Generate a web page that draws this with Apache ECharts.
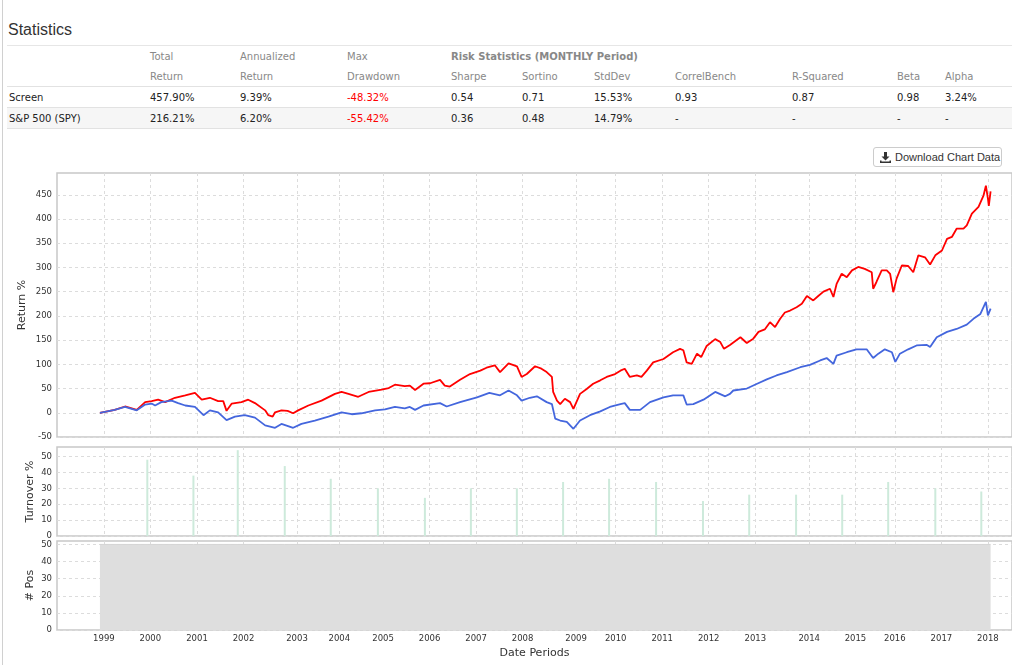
<!DOCTYPE html>
<html>
<head>
<meta charset="utf-8">
<title>Statistics</title>
<script src="https://cdn.jsdelivr.net/npm/echarts@6/dist/echarts.min.js"></script>
<style>
  body{margin:0;background:#fff;width:1012px;height:665px;overflow:hidden;position:relative;font-family:"DejaVu Sans",Verdana,sans-serif;color:#222;}
  .edge{position:absolute;left:2px;top:0;width:1px;height:665px;background:#d0d0d0;z-index:5;}
  h3{position:absolute;left:8px;top:21px;margin:0;font:16px "Liberation Sans",Arial,sans-serif;color:#333;font-weight:normal;}
  .rule{position:absolute;left:7px;right:0;top:45px;border-top:1px solid #e6e6e6;}
  table{position:absolute;left:7px;top:46px;border-collapse:collapse;table-layout:fixed;width:1005px;font-size:10px;}
  td{padding:0 0 0 2px;white-space:nowrap;overflow:hidden;}
  tr.h td{color:#888;height:20px;}
  tr.h2 td{border-bottom:1px solid #e2e2e2;}
  tr.r td{height:20px;border-bottom:1px solid #e2e2e2;}
  tr.alt td{background:#f6f6f6;}
  td.neg{color:#f00;}
  td.grp{font-weight:bold;color:#888;}
  .btn{position:absolute;left:873px;top:147px;width:121px;height:18px;border:1px solid #ccc;border-radius:3px;
       font:11px "Liberation Sans",Arial,sans-serif;color:#333;display:flex;align-items:center;padding-left:6px;box-sizing:content-box;}
  .btn svg{margin-right:4px;}
  #chart{position:absolute;left:0;top:170px;width:1012px;height:495px;}
</style>
</head>
<body>
<div class="edge"></div>
<h3>Statistics</h3>
<div class="rule"></div>
<table>
  <colgroup>
    <col style="width:141px"><col style="width:90px"><col style="width:107px"><col style="width:104px">
    <col style="width:71px"><col style="width:72px"><col style="width:81px"><col style="width:117px">
    <col style="width:105px"><col style="width:48px"><col style="width:69px">
  </colgroup>
  <tr class="h"><td></td><td>Total</td><td>Annualized</td><td>Max</td><td class="grp" colspan="7">Risk Statistics (MONTHLY Period)</td></tr>
  <tr class="h h2"><td></td><td>Return</td><td>Return</td><td>Drawdown</td><td>Sharpe</td><td>Sortino</td><td>StdDev</td><td>CorrelBench</td><td>R-Squared</td><td>Beta</td><td>Alpha</td></tr>
  <tr class="r"><td>Screen</td><td>457.90%</td><td>9.39%</td><td class="neg">-48.32%</td><td>0.54</td><td>0.71</td><td>15.53%</td><td>0.93</td><td>0.87</td><td>0.98</td><td>3.24%</td></tr>
  <tr class="r alt"><td>S&amp;P 500 (SPY)</td><td>216.21%</td><td>6.20%</td><td class="neg">-55.42%</td><td>0.36</td><td>0.48</td><td>14.79%</td><td>-</td><td>-</td><td>-</td><td>-</td></tr>
</table>
<div class="btn"><svg width="11" height="11" viewBox="0 0 11 11"><path d="M4 0h3v4.5h2.5L5.5 8.5 1.5 4.5H4z M0 8.5h1.5v1h8v-1H11V11H0z" fill="#333"/></svg>Download Chart Data</div>
<div id="chart"></div>
<script>
// x axis year labels (positions)
var yearTicks = ['1999-01-01','2000-01-01','2001-01-01','2002-01-01','2003-02-25','2004-01-23','2005-01-01',
  '2006-01-01','2007-01-01','2008-01-01','2009-02-24','2010-01-01','2011-01-01','2012-01-01','2013-01-01',
  '2014-02-28','2015-02-26','2016-01-01','2017-01-01','2018-01-01'];
var returnTicks = [-50,0,50,100,150,200,250,300,350,400,450];
var turnoverTicks = [0,10,20,30,40,50];
var posTicks = [0,10,20,30,40,50];

// Screen cumulative return %
var screenDates = ['1998-12-01','1999-03-27','1999-06-16','1999-09-16','1999-11-21','2000-01-11','2000-03-02','2000-04-26',
  '2000-07-12','2000-10-01','2000-12-16','2001-02-07','2001-04-12','2001-06-16','2001-07-26','2001-08-21','2001-10-01',
  '2001-12-16','2002-02-07','2002-04-01','2002-06-20','2002-07-15','2002-08-18','2002-09-06','2002-10-26','2002-12-13',
  '2003-01-26','2003-03-06','2003-05-25','2003-09-06','2003-12-20','2004-02-10','2004-04-04','2004-06-20','2004-09-09',
  '2004-12-20','2005-02-14','2005-04-04','2005-06-20','2005-07-30','2005-09-09','2005-11-14','2006-01-05','2006-03-24',
  '2006-04-30','2006-06-09','2006-08-28','2006-11-14','2007-02-03','2007-03-24','2007-05-28','2007-07-08','2007-09-13',
  '2007-11-18','2007-12-24','2008-02-03','2008-04-08','2008-05-28','2008-07-08','2008-08-18','2008-08-28','2008-09-27',
  '2008-10-22','2008-11-28','2009-01-08','2009-02-03','2009-03-27','2009-05-18','2009-07-08','2009-09-02','2009-10-22',
  '2009-12-27','2010-02-07','2010-03-13','2010-04-22','2010-06-16','2010-07-22','2010-09-02','2010-10-22','2011-01-11',
  '2011-03-27','2011-05-21','2011-06-16','2011-07-12','2011-08-21','2011-10-01','2011-11-03','2011-12-16','2012-02-21',
  '2012-04-01','2012-04-30','2012-06-16','2012-09-06','2012-10-26','2012-12-16','2013-01-26','2013-03-16','2013-04-26',
  '2013-06-05','2013-07-15','2013-08-21','2013-10-01','2013-11-21','2014-01-01','2014-02-10','2014-04-01','2014-05-10',
  '2014-06-20','2014-08-10','2014-09-06','2014-10-01','2014-11-10','2014-12-20','2015-01-30','2015-03-20','2015-05-10',
  '2015-07-04','2015-07-15','2015-08-10','2015-09-20','2015-10-30','2015-11-25','2015-12-20','2016-01-15','2016-02-25',
  '2016-04-15','2016-05-25','2016-07-04','2016-08-25','2016-10-04','2016-11-14','2017-01-05','2017-02-14','2017-03-24',
  '2017-04-30','2017-06-23','2017-07-19','2017-08-28','2017-10-19','2017-11-28','2017-12-16','2018-01-01','2018-01-08',
  '2018-01-22'];
var screenReturns = [0,6,13,6,22,24,27,22,
  31,36,41,27,31,24,24,4,19,
  22,27,20,5,-5,-8,1,5,4,
  -1,5,15,25,39,43,39,33,43,
  48,51,58,55,56,47,60,61,68,
  56,54,68,80,87,93,98,84,102,
  96,74,80,96,91,84,74,43,25,
  18,29,22,8,39,49,60,67,74,
  80,87,91,74,77,74,87,104,111,
  125,132,129,104,101,122,115,138,152,
  146,132,140,156,144,153,167,172,187,
  177,194,207,211,218,225,241,232,241,
  250,256,239,266,287,280,294,301,297,
  290,256,270,294,294,287,249,277,304,
  303,290,325,321,306,325,335,359,363,
  380,380,387,411,425,449,469,442,427,
  457];

// S&P 500 (SPY) cumulative return %
var spyDates = ['1998-12-01','1999-03-27','1999-06-16','1999-09-16','1999-11-21','2000-01-11','2000-02-07','2000-03-27',
  '2000-06-16','2000-08-06','2000-10-01','2000-12-16','2001-02-21','2001-04-12','2001-06-16','2001-08-21','2001-10-26',
  '2002-01-11','2002-04-01','2002-06-20','2002-09-06','2002-10-26','2003-01-26','2003-04-01','2003-07-15','2003-10-30',
  '2004-02-10','2004-04-30','2004-07-15','2004-10-30','2005-01-15','2005-04-04','2005-06-20','2005-07-30','2005-09-09',
  '2005-11-14','2006-03-24','2006-05-15','2006-08-28','2007-01-08','2007-04-15','2007-07-08','2007-09-13','2007-11-18',
  '2007-12-24','2008-02-27','2008-04-22','2008-07-08','2008-08-18','2008-09-13','2008-10-22','2008-12-13','2009-02-03',
  '2009-03-27','2009-06-13','2009-09-02','2009-11-16','2010-02-07','2010-03-13','2010-04-22','2010-07-12','2010-09-27',
  '2011-01-11','2011-03-27','2011-06-16','2011-07-12','2011-09-02','2011-11-21','2012-02-21','2012-05-10','2012-06-16',
  '2012-07-12','2012-10-26','2013-01-15','2013-04-01','2013-06-16','2013-09-06','2013-12-20','2014-03-06','2014-05-25',
  '2014-07-15','2014-09-06','2014-10-01','2014-12-20','2015-03-06','2015-05-25','2015-07-15','2015-08-25','2015-10-15',
  '2015-12-09','2016-01-05','2016-02-10','2016-04-15','2016-06-20','2016-09-09','2016-10-04','2016-11-25','2017-02-14',
  '2017-04-30','2017-07-19','2017-09-09','2017-11-03','2017-12-16','2018-01-01','2018-01-22'];
var spyReturns = [0,6,12,5,17,19,15,22,
  25,20,15,12,-5,5,1,-15,-8,
  -5,-10,-26,-31,-23,-31,-23,-16,-8,
  1,-3,-1,5,7,12,9,12,6,
  15,20,13,22,32,41,36,46,36,
  25,31,34,22,18,-12,-16,-19,-33,
  -16,-5,3,12,18,20,6,6,22,
  32,36,36,17,18,27,43,34,39,
  46,50,60,69,77,84,94,99,108,
  113,101,118,125,131,131,113,122,131,
  125,105,122,131,139,140,136,156,167,
  173,182,194,204,229,201,215];

// yearly turnover %
var turnoverDates = ['1999-12-08','2000-12-04','2001-11-17','2002-11-21','2003-11-17','2004-11-21','2005-11-25',
  '2006-11-21','2007-11-17','2008-11-14','2009-11-10','2010-11-14','2011-11-17','2012-11-14','2013-11-17',
  '2014-11-14','2015-11-10','2016-11-14','2017-11-10'];
var turnoverPct = [48,38,54,44,36,30,24,30,30,34,36,34,22,26,26,26,34,30,28];

// number of positions held
var posDates = ['1998-12-01','1999-12-08','2000-12-04','2001-11-17','2002-11-21','2003-11-17','2004-11-21','2005-11-25',
  '2006-11-21','2007-11-17','2008-11-14','2009-11-10','2010-11-14','2011-11-17','2012-11-14','2013-11-17',
  '2014-11-14','2015-11-10','2016-11-14','2017-11-10','2018-01-22'];
var posCounts = [50,50,50,50,50,50,50,50,50,50,50,50,50,50,50,50,50,50,50,50,50];

// dates -> timestamps, the x axis is a plain value axis in ms
function pairs(dates, vals){
  var out=[];
  for(var i=0;i<dates.length;i++){ out.push([Date.parse(dates[i]), vals[i]]); }
  return out;
}
var yearTickMs = yearTicks.map(function(d){ return Date.parse(d); });

var xMin = Date.parse('1997-12-29'), xMax = Date.parse('2018-07-09');
var txt = {color:'#333', fontSize:8.5, fontFamily:'DejaVu Sans'};
var gridLine = {show:true, lineStyle:{color:'#dcdcdc', type:[3,3], width:1}};

function xAxis(idx, showLabels){
  return {
    type:'value', gridIndex:idx, min:xMin, max:xMax, scale:true,
    axisLine:{show:false},
    axisTick:{show:false, customValues:yearTickMs},
    axisLabel:{show:showLabels, customValues:yearTickMs, margin:4, color:txt.color, fontSize:txt.fontSize, fontFamily:txt.fontFamily,
      formatter:function(v){ return String(new Date(v).getUTCFullYear()); }},
    splitLine:gridLine,
    name: showLabels ? 'Date Periods' : '',
    nameLocation:'middle', nameGap:18, nameMoveOverlap:false,
    nameTextStyle:{color:'#333', fontSize:11, fontFamily:'DejaVu Sans'}
  };
}
function yAxis(idx, min, max, ticks, name, gap){
  return {
    type:'value', gridIndex:idx, min:min, max:max,
    axisLine:{show:false},
    axisTick:{show:false, customValues:ticks},
    axisLabel:{customValues:ticks, margin:5, color:txt.color, fontSize:txt.fontSize, fontFamily:txt.fontFamily},
    splitLine:gridLine,
    name:name, nameLocation:'middle', nameGap:gap, nameRotate:90, nameMoveOverlap:false,
    nameTextStyle:{color:'#333', fontSize:11, fontFamily:'DejaVu Sans'}
  };
}

var chart = echarts.init(document.getElementById('chart'));
chart.setOption({
  animation:false,
  backgroundColor:'#fff',
  grid:[
    {left:57, right:0, top:3, height:264, show:true, borderColor:'#c8c8c8', borderWidth:1.5},
    {left:57, right:0, top:277, height:89, show:true, borderColor:'#c8c8c8', borderWidth:1.5},
    {left:57, right:0, top:371, height:89, show:true, borderColor:'#c8c8c8', borderWidth:1.5}
  ],
  xAxis:[xAxis(0,false), xAxis(1,false), xAxis(2,true)],
  yAxis:[
    yAxis(0,-50,495,returnTicks,'Return %',29),
    yAxis(1,0,56,turnoverTicks,'Turnover %',21),
    yAxis(2,0,52,posTicks,'# Pos',21)
  ],
  series:[
    {name:'Screen', type:'line', xAxisIndex:0, yAxisIndex:0, showSymbol:false,
     lineStyle:{color:'#ff0000', width:1.8}, itemStyle:{color:'#ff0000'}, data:pairs(screenDates, screenReturns)},
    {name:'S&P 500 (SPY)', type:'line', xAxisIndex:0, yAxisIndex:0, showSymbol:false,
     lineStyle:{color:'#4466dd', width:1.8}, itemStyle:{color:'#4466dd'}, data:pairs(spyDates, spyReturns)},
    {name:'Turnover', type:'bar', xAxisIndex:1, yAxisIndex:1, barWidth:2,
     itemStyle:{color:'#cdeadb'}, data:pairs(turnoverDates, turnoverPct)},
    {name:'# Pos', type:'line', xAxisIndex:2, yAxisIndex:2, step:'end', showSymbol:false,
     lineStyle:{color:'#d4d4d4', width:1}, areaStyle:{color:'#dedede', opacity:1},
     data:pairs(posDates, posCounts)}
  ]
});
</script>
</body>
</html>
